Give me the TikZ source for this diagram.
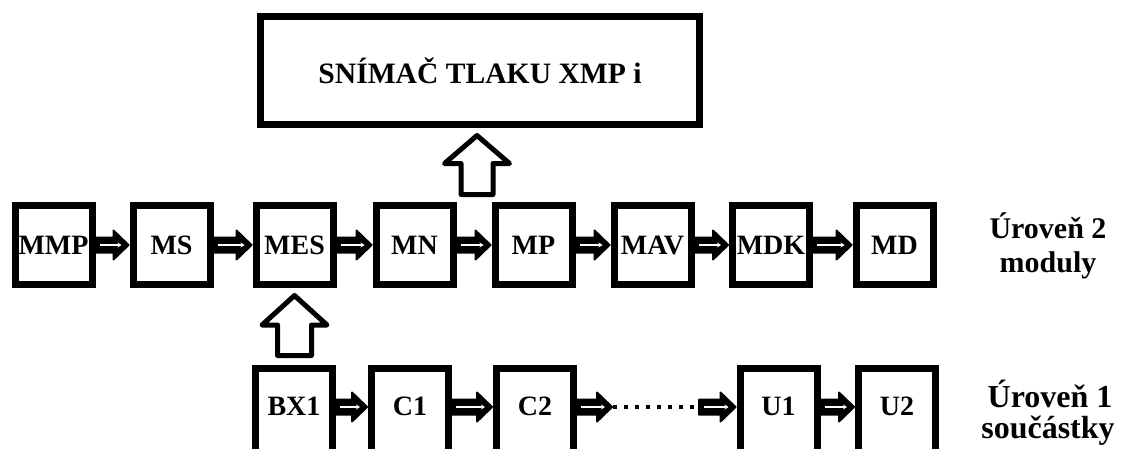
\documentclass[tikz,border=0pt]{standalone}
\usepackage{fontspec}
\setmainfont{Liberation Serif}
\usetikzlibrary{calc,arrows.meta}
\tikzset{
 box/.style={draw=black, line width=7pt, fill=white, minimum width=77pt, minimum height=79pt, inner sep=0pt, font=\bfseries\fontsize{28}{30}\selectfont},
 lowbox/.style={box, minimum height=90pt, text depth=14pt},
 bigbox/.style={draw=black, line width=7pt, fill=white, minimum width=439pt, minimum height=108pt, inner sep=0pt, font=\bfseries\fontsize{29.6}{32}\selectfont},
 lvltop/.style={font=\bfseries\fontsize{30}{34}\selectfont, anchor=base, inner sep=0pt},
 lvlbot/.style={font=\bfseries\fontsize{32}{34}\selectfont, anchor=base, inner sep=0pt},
 blockarrow/.style={draw=black, fill=white, line width=5pt, line join=round},
 harrowbody/.style={fill=black, draw=black, line width=2pt, line join=round},
 harrowline/.style={draw=white, line width=1.6pt, -{Stealth[length=4pt,width=5pt]}},
 dotline/.style={draw=black, line width=4pt, dash pattern=on 4pt off 7pt},
}
\newcommand\harrow[2]{%
 \path[harrowbody] ($(#1)+(-1,-7.5)$) -- ($(#2)+(-16,-7.5)$) -- ($(#2)+(-16,-14.5)$) -- ($(#2)+(-1,0)$) -- ($(#2)+(-16,14.5)$) -- ($(#2)+(-16,7.5)$) -- ($(#1)+(-1,7.5)$) -- cycle;
 \draw[harrowline] ($(#1)+(4,0)$) -- ($(#2)+(-8,0)$);}
\begin{document}
\begin{tikzpicture}[x=1pt,y=-1pt]
\useasboundingbox (0,0) rectangle (1132,448);
\fill[white] (0,0) rectangle (1132,448);
\clip (0,0) rectangle (1132,448);

% top box
\node[bigbox] (top) at (480,70.5) {SNÍMAČ TLAKU XMP i};

% level 2 modules
\node[box] (MMP) at (53.5,245) {MMP};
\node[box] (MS)  at (171.5,245) {MS};
\node[box] (MES) at (294.5,245) {MES};
\node[box] (MN)  at (414.5,245) {MN};
\node[box] (MP)  at (533.5,245) {MP};
\node[box] (MAV) at (652.5,245) {MAV};
\node[box] (MDK) at (771,245) {MDK};
\node[box] (MD)  at (894.5,245) {MD};

% level 1 components (cut off by the lower edge)
\node[lowbox] (BX1) at (294,413.5) {BX1};
\node[lowbox] (C1)  at (410,413.5) {C1};
\node[lowbox] (C2)  at (535,413.5) {C2};
\node[lowbox] (U1)  at (778.5,413.5) {U1};
\node[lowbox] (U2)  at (897,413.5) {U2};
\coordinate (d1) at (613,407);
\coordinate (d2) at (700,407);

% level labels
\node[lvltop] (l2a) at (1048,238) {Úroveň 2};
\node[lvltop] (l2b) at (1048,272) {moduly};
\node[lvlbot] (l1a) at (1050,407) {Úroveň 1};
\node[lvlbot] (l1b) at (1048,438) {součástky};

% horizontal arrows, level 2
\harrow{MMP.east}{MS.west}
\harrow{MS.east}{MES.west}
\harrow{MES.east}{MN.west}
\harrow{MN.east}{MP.west}
\harrow{MP.east}{MAV.west}
\harrow{MAV.east}{MDK.west}
\harrow{MDK.east}{MD.west}

% horizontal arrows, level 1
\harrow{$(BX1.east)+(0,-6.5)$}{$(C1.west)+(0,-6.5)$}
\harrow{$(C1.east)+(0,-6.5)$}{$(C2.west)+(0,-6.5)$}
\harrow{$(C2.east)+(0,-6.5)$}{d1}
\draw[dotline] (d1) -- (d2);
\harrow{d2}{$(U1.west)+(0,-6.5)$}
\harrow{$(U1.east)+(0,-6.5)$}{$(U2.west)+(0,-6.5)$}

% block arrow BX1 -> MES
\draw[blockarrow]
  ($(MES.south)+(0,7.5)$) -- ($(MES.south)+(32.5,37)$) -- ($(MES.south)+(17,37)$)
  -- ($(MES.south |- BX1.north)+(17,-9.5)$) -- ($(MES.south |- BX1.north)+(-17,-9.5)$)
  -- ($(MES.south)+(-17,37)$) -- ($(MES.south)+(-32.5,37)$) -- cycle;

% block arrow level 2 -> top box
\coordinate (ta) at (477,194.5);
\draw[blockarrow]
  ($(top.south -| ta)+(0,7.5)$) -- ($(top.south -| ta)+(32.5,35.5)$) -- ($(top.south -| ta)+(16,35.5)$)
  -- ($(ta)+(16,0)$) -- ($(ta)+(-16,0)$)
  -- ($(top.south -| ta)+(-16,35.5)$) -- ($(top.south -| ta)+(-32.5,35.5)$) -- cycle;
\end{tikzpicture}
\end{document}
